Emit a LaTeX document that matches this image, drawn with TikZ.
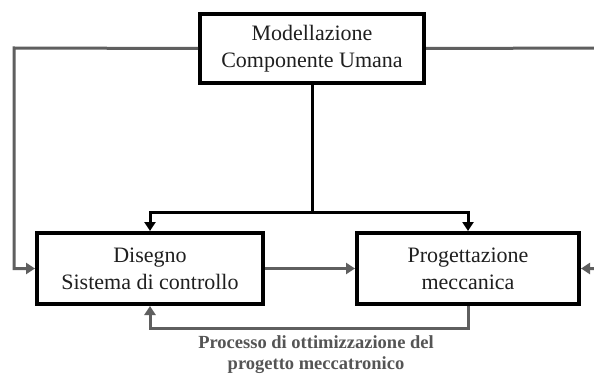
\documentclass[tikz,border=0pt]{standalone}
\usepackage{fontspec}
\setmainfont{Liberation Serif}
\usetikzlibrary{arrows.meta}
\definecolor{lgray}{HTML}{5F5F5F}
\definecolor{tgray}{HTML}{555555}
\begin{document}
\begin{tikzpicture}[x=1pt,y=-1pt,
  blk/.style={draw=black,line width=4pt,fill=white,inner sep=0pt,align=center,
    font=\fontsize{22}{27}\selectfont,text=black!88},
  glink/.style={draw=lgray,line width=3pt,-{Triangle[length=9pt,width=11pt]}},
  bline/.style={draw=black,line width=3pt},
  barrow/.style={bline,-{Triangle[length=9pt,width=11pt]}},
  lbl/.style={font=\bfseries\fontsize{18.5}{21}\selectfont,text=tgray,align=center}]
\useasboundingbox (0,0) rectangle (594,374);
\clip (0,0) rectangle (594,374);
\fill[white] (0,0) rectangle (594,374);
\node[blk,minimum width=224pt,minimum height=69pt] (top) at (312,48.5) {Modellazione\\Componente Umana};
\node[blk,minimum width=226pt,minimum height=71pt] (dis) at (150,268.5) {Disegno\\Sistema di controllo};
\node[blk,minimum width=222pt,minimum height=71pt] (prog) at (468,268.5) {Progettazione\\meccanica};
\coordinate (lc) at (14,48);
\coordinate (rc) at (602,48);
\coordinate (split) at (312,212);
\coordinate (fb) at (312,328);
\draw[glink] (top.west) -- (lc) |- (dis.west);
\draw[glink] (top.east) -- (rc) |- (prog.east);
\draw[bline] (top.south) -- (split);
\draw[barrow] (split) -| (dis.north);
\draw[barrow] (split) -| (prog.north);
\draw[glink] (dis.east) -- (prog.west);
\draw[glink] (prog.south) |- (fb) -| (dis.south);
\node[lbl] (label) at (316,355) {Processo di ottimizzazione del\\progetto meccatronico};
\end{tikzpicture}
\end{document}
